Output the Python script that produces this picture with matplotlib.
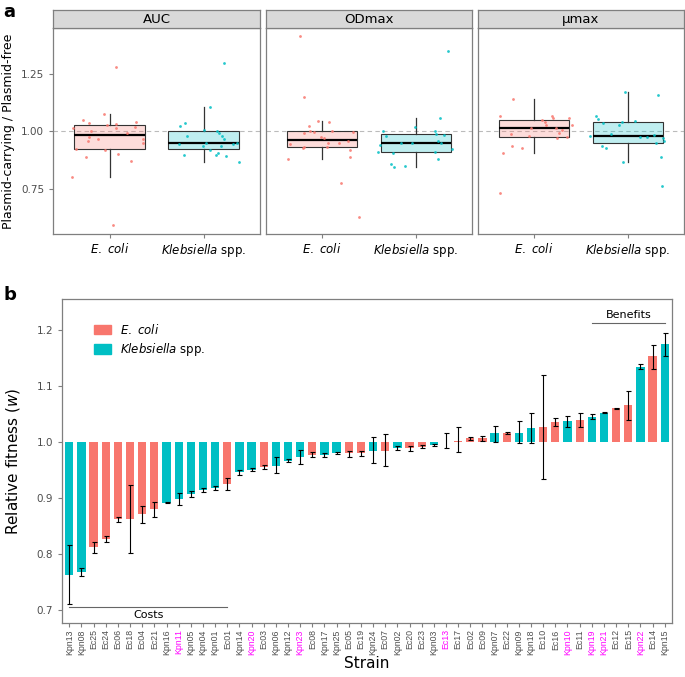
import numpy as np
import matplotlib
matplotlib.use("Agg")
import matplotlib.pyplot as plt
from matplotlib.patches import Patch

plt.rcParams['font.family'] = ['DejaVu Sans']
plt.rcParams['mathtext.fontset'] = 'dejavusans'

# ---------------- panel a data (jitter offset from category, value) ----------------
facets = ["AUC", "ODmax", "\u00b5max"]

auc_ec_dx = [-0.40, -0.39, -0.36, -0.255, -0.28, -0.22, -0.22, -0.23, -0.195, -0.12, -0.064, -0.05,
             -0.03, 0.064, 0.07, 0.07, 0.09, 0.18, 0.23, 0.27, 0.28, 0.35, 0.36, 0.035]
auc_ec_y = [0.80, 1.016, 0.923, 0.887, 1.051, 1.038, 0.974, 0.958, 1.003, 0.968, 1.076, 0.92,
            1.026, 1.278, 1.032, 1.012, 0.90, 0.994, 0.87, 1.02, 1.042, 0.95, 0.965, 0.593]
auc_kp_dx = [-0.255, -0.20, -0.21, -0.174, -0.26, 0.0, -0.007, 0.03, 0.064, 0.064, 0.128, 0.15,
             0.14, 0.16, 0.18, 0.20, 0.22, 0.22, 0.24, 0.31, 0.35, 0.376]
auc_kp_y = [1.023, 1.035, 0.895, 0.978, 0.945, 1.006, 0.936, 0.948, 1.105, 0.917, 0.897, 0.903,
            1.003, 0.991, 0.937, 0.98, 0.965, 1.297, 0.89, 0.945, 0.95, 0.865]

od_ec_dx = [-0.24, -0.19, -0.145, -0.19, -0.13, -0.09, -0.05, 0.07, 0.106, -0.014, 0.02, -0.34,
            -0.20, -0.19, 0.067, 0.05, 0.18, 0.30, 0.30, 0.28, 0.33, -0.36, 0.20, 0.39]
od_ec_y = [1.413, 1.15, 1.023, 0.994, 1.001, 0.996, 1.045, 1.042, 1.001, 0.974, 0.969, 0.945,
           0.929, 0.932, 0.948, 0.933, 0.948, 0.917, 0.887, 0.956, 0.998, 0.878, 0.775, 0.625]
od_kp_dx = [-0.35, -0.32, -0.38, -0.40, -0.24, -0.26, -0.234, -0.117, -0.156, -0.007, -0.04, 0.206,
            0.22, 0.26, 0.30, 0.24, 0.27, 0.20, 0.24, 0.39, 0.34]
od_kp_y = [1.0, 0.98, 0.942, 0.911, 0.904, 0.855, 0.846, 0.85, 0.948, 1.017, 0.95, 1.0,
           0.99, 1.057, 0.984, 0.958, 0.948, 0.911, 0.878, 0.924, 1.349]

mu_ec_dx = [-0.37, -0.23, -0.37, -0.33, -0.24, -0.13, -0.25, -0.06, -0.035, 0.08, 0.12, 0.13,
            0.19, 0.20, 0.23, 0.24, 0.27, 0.35, 0.37, 0.40, 0.30]
mu_ec_y = [1.067, 1.14, 0.73, 0.907, 0.936, 0.926, 0.988, 0.98, 1.016, 1.047, 1.042, 1.028,
           1.067, 1.058, 1.016, 0.969, 0.991, 0.975, 1.058, 1.025, 1.006]
mu_kp_dx = [-0.34, -0.32, -0.26, -0.40, -0.28, -0.23, -0.18, -0.09, -0.057, -0.035, -0.05, 0.08,
            0.128, 0.20, 0.30, 0.32, 0.35, 0.366, 0.38, 0.39, 0.28]
mu_kp_y = [1.067, 1.055, 1.035, 0.98, 0.936, 0.927, 0.987, 1.025, 1.042, 1.169, 0.865, 1.045,
           0.977, 0.977, 0.95, 1.16, 0.888, 0.763, 0.97, 0.958, 0.984]

facet_data = [
    (auc_ec_dx, auc_ec_y, auc_kp_dx, auc_kp_y),
    (od_ec_dx, od_ec_y, od_kp_dx, od_kp_y),
    (mu_ec_dx, mu_ec_y, mu_kp_dx, mu_kp_y),
]

# ---------------- panel b data ----------------
strains = ["Kpn13", "Kpn08", "Ec25", "Ec24", "Ec06", "Ec18", "Ec04", "Ec21", "Kpn16", "Kpn11",
           "Kpn05", "Kpn04", "Kpn01", "Ec01", "Kpn14", "Kpn20", "Ec03", "Kpn06", "Kpn12", "Kpn23",
           "Ec08", "Kpn17", "Kpn25", "Ec05", "Ec19", "Kpn24", "Ec07", "Kpn02", "Ec20", "Ec23",
           "Kpn03", "Ec13", "Ec17", "Ec02", "Ec09", "Kpn07", "Ec22", "Kpn09", "Kpn18", "Ec10",
           "Ec16", "Kpn10", "Ec11", "Kpn19", "Kpn21", "Ec12", "Ec15", "Kpn22", "Ec14", "Kpn15"]
fitness = [0.762, 0.767, 0.811, 0.826, 0.862, 0.862, 0.870, 0.879, 0.891, 0.898,
           0.907, 0.914, 0.917, 0.925, 0.945, 0.950, 0.955, 0.957, 0.965, 0.973,
           0.977, 0.976, 0.980, 0.979, 0.980, 0.984, 0.984, 0.989, 0.989, 0.991,
           0.994, 0.999, 1.001, 1.006, 1.006, 1.015, 1.015, 1.016, 1.025, 1.026,
           1.035, 1.037, 1.039, 1.045, 1.052, 1.060, 1.065, 1.134, 1.153, 1.174]
err_lo = [0.710, 0.760, 0.801, 0.820, 0.857, 0.801, 0.855, 0.865, 0.890, 0.886,
          0.901, 0.910, 0.913, 0.913, 0.941, 0.947, 0.952, 0.944, 0.963, 0.960,
          0.973, 0.972, 0.978, 0.973, 0.975, 0.962, 0.956, 0.985, 0.984, 0.988,
          0.993, 0.988, 0.981, 1.003, 1.002, 1.000, 1.013, 0.997, 0.998, 0.933,
          1.028, 1.027, 1.027, 1.040, 1.051, 1.059, 1.039, 1.130, 1.130, 1.153]
err_hi = [0.815, 0.775, 0.820, 0.831, 0.866, 0.923, 0.885, 0.892, 0.892, 0.908,
          0.911, 0.918, 0.921, 0.936, 0.949, 0.953, 0.959, 0.972, 0.969, 0.985,
          0.982, 0.980, 0.982, 0.984, 0.984, 1.008, 1.013, 0.993, 0.993, 0.994,
          0.996, 1.015, 1.027, 1.009, 1.010, 1.028, 1.018, 1.037, 1.051, 1.119,
          1.043, 1.046, 1.051, 1.050, 1.053, 1.061, 1.091, 1.139, 1.172, 1.195]
highlight = ["Kpn11", "Kpn20", "Kpn23", "Ec13", "Kpn10", "Kpn19", "Kpn21", "Kpn22"]

col_ec = "#F8766D"
col_kp = "#00BFC4"
grey_txt = "#4D4D4D"
frame_col = "#7F7F7F"

fig = plt.figure(figsize=(6.85, 6.77), dpi=100)

# ---------------- panel a ----------------
lefts = [53.3, 266, 478]
rights = [260, 472, 684]
W, H = 685.0, 677.0
for k in range(3):
    l = lefts[k] / W
    w = (rights[k] - lefts[k]) / W
    ax = fig.add_axes([l, 1 - 234 / H, w, (234 - 28) / H])
    ec_dx, ec_y, kp_dx, kp_y = facet_data[k]
    ax.axhline(1.0, color="#BBBBBB", ls=(0, (4, 3)), lw=0.8, zorder=0)
    bp = ax.boxplot([ec_y, kp_y], positions=[1, 2], widths=0.75, patch_artist=True,
                    showfliers=False, whis=1.5,
                    medianprops=dict(color="black", lw=1.6),
                    boxprops=dict(edgecolor="#333333", lw=0.8),
                    whiskerprops=dict(color="#333333", lw=0.9),
                    capprops=dict(lw=0))
    for patch, c in zip(bp['boxes'], [col_ec, col_kp]):
        patch.set_facecolor(matplotlib.colors.to_rgba(c, 0.25))
    ax.scatter(1 + np.array(ec_dx), ec_y, s=4, color=col_ec, alpha=0.85, lw=0, zorder=3)
    ax.scatter(2 + np.array(kp_dx), kp_y, s=4, color=col_kp, alpha=0.85, lw=0, zorder=3)
    ax.set_xlim(0.4, 2.6)
    ax.set_ylim(0.552, 1.45)
    ax.set_xticks([1, 2])
    ax.set_xticklabels([r"$\mathit{E.\ coli}$", r"$\mathit{Klebsiella}$ spp."], fontsize=8.5, color="black")
    ax.tick_params(axis='x', length=3, color=frame_col, pad=3)
    if k == 0:
        ax.set_yticks([0.75, 1.0, 1.25])
        ax.set_yticklabels(["0.75", "1.00", "1.25"], fontsize=7.5, color=grey_txt)
        ax.tick_params(axis='y', length=3, color=frame_col)
        ax.set_ylabel("Plasmid-carrying / Plasmid-free", fontsize=9, labelpad=4)
    else:
        ax.set_yticks([])
    for s in ax.spines.values():
        s.set_color(frame_col)
        s.set_linewidth(0.9)
    # strip
    st = fig.add_axes([l, 1 - 28 / H, w, 18 / H])
    st.set_facecolor("#D9D9D9")
    st.set_xticks([])
    st.set_yticks([])
    for s in st.spines.values():
        s.set_color(frame_col)
        s.set_linewidth(0.9)
    st.text(0.5, 0.45, facets[k], ha='center', va='center', fontsize=9.5, transform=st.transAxes)

# ---------------- panel b ----------------
axb = fig.add_axes([62 / W, 1 - 623 / H, (672 - 62) / W, (623 - 299) / H])
x = np.arange(len(strains))
vals = np.array(fitness)
colors = [col_ec if s.startswith("Ec") else col_kp for s in strains]
axb.bar(x, vals - 1.0, bottom=1.0, width=0.68, color=colors, zorder=2)
yerr = [vals - np.array(err_lo), np.array(err_hi) - vals]
axb.errorbar(x, vals, yerr=yerr, fmt='none', ecolor="black", elinewidth=0.8, capsize=1.8,
             capthick=0.8, zorder=3)
axb.set_xlim(-0.6, len(strains) - 0.4)
axb.set_ylim(0.676, 1.255)
axb.set_xticks(x)
axb.set_xticklabels(strains, rotation=90, fontsize=6.3, family=['Liberation Sans'])
for lab in axb.get_xticklabels():
    lab.set_color("#FF00FF" if lab.get_text() in highlight else grey_txt)
axb.set_yticks([0.7, 0.8, 0.9, 1.0, 1.1, 1.2])
axb.set_yticklabels(["0.7", "0.8", "0.9", "1.0", "1.1", "1.2"], fontsize=7.5, color=grey_txt)
axb.tick_params(length=3, color=frame_col)
axb.tick_params(axis='x', pad=1.5)
axb.set_ylabel("Relative fitness ($\\mathit{w}$)", fontsize=11, labelpad=10)
axb.set_xlabel("Strain", fontsize=11, labelpad=1)
for s in axb.spines.values():
    s.set_color(frame_col)
    s.set_linewidth(0.9)

# costs / benefits brackets
axb.plot([0, 13], [0.7045, 0.7045], color="#666666", lw=0.8)
axb.text(6.5, 0.691, "Costs", ha='center', va='center', fontsize=8)
axb.plot([43, 49], [1.212, 1.212], color="#666666", lw=0.8)
axb.text(46, 1.227, "Benefits", ha='center', va='center', fontsize=8)

handles = [Patch(color=col_ec, label=r"$\mathit{E.\ coli}$"),
           Patch(color=col_kp, label=r"$\mathit{Klebsiella}$ spp.")]
axb.legend(handles=handles, loc='upper left', bbox_to_anchor=(0.035, 0.96), frameon=False,
           fontsize=8.5, handlelength=1.4, handleheight=0.9, labelspacing=0.35)

fig.text(0.005, 0.995, "a", fontsize=13, fontweight='bold', va='top')
fig.text(0.005, 0.578, "b", fontsize=13, fontweight='bold', va='top')

fig.savefig("out.png", dpi=100)
